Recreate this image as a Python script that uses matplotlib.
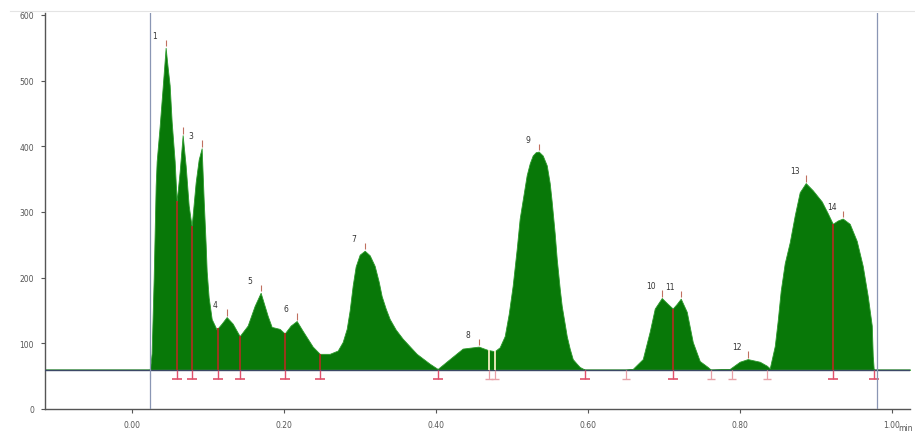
import numpy as np
import matplotlib.pyplot as plt

trace_t = [-0.114, 0.0237, 0.0250, 0.0263, 0.0290, 0.0316, 0.0329, 0.0368, 0.0408, 0.0447,
           0.0474, 0.0500, 0.0526, 0.0566, 0.0592, 0.0632, 0.0671, 0.0711, 0.0750, 0.0789,
           0.0842, 0.0882, 0.0921, 0.0947, 0.0974, 0.0987, 0.1013, 0.1053, 0.1118, 0.1184,
           0.1250, 0.1329, 0.1421, 0.1526, 0.1618, 0.1697, 0.1789, 0.1842, 0.1947, 0.2013,
           0.2092, 0.2171, 0.2250, 0.2316, 0.2382, 0.2474, 0.2605, 0.2711, 0.2776, 0.2829,
           0.2868, 0.2908, 0.2947, 0.3000, 0.3066, 0.3132, 0.3197, 0.3250, 0.3289, 0.3342,
           0.3395, 0.3474, 0.3566, 0.3750, 0.3921,
           0.4026, 0.4184, 0.4355, 0.4566, 0.4684, 0.4776, 0.4842, 0.4908, 0.4961, 0.5013,
           0.5066, 0.5105, 0.5158, 0.5197, 0.5237, 0.5276, 0.5316, 0.5355, 0.5408, 0.5461,
           0.5500, 0.5526, 0.5566, 0.5592, 0.5632, 0.5658, 0.5697, 0.5724, 0.5763, 0.5803,
           0.5855, 0.5895,
           0.5961, 0.6500, 0.6592, 0.6724, 0.6816, 0.6882, 0.6974, 0.7053, 0.7118, 0.7171,
           0.7224, 0.7303, 0.7382, 0.7474, 0.7579, 0.7618, 0.7868, 0.8000, 0.8105, 0.8263,
           0.8355, 0.8395, 0.8461, 0.8500, 0.8539, 0.8592, 0.8658, 0.8724, 0.8789, 0.8868,
           0.8961, 0.9079, 0.9158, 0.9224, 0.9289, 0.9355, 0.9447, 0.9539, 0.9618, 0.9684,
           0.9737, 0.9750, 0.9763, 1.024]
trace_y = [60, 60, 70, 85, 200, 340, 377, 430, 490, 550,
           520, 493, 438, 377, 316, 362, 417, 370, 310, 278,
           345, 380, 397, 320, 250, 210, 170, 137, 121, 130,
           140, 130, 111, 127, 157, 177, 142, 125, 122, 115,
           127, 134, 119, 107, 95, 84, 84, 89, 102, 122,
           150, 188, 217, 235, 241, 234, 218, 194, 172, 153,
           137, 121, 107, 84, 69,
           61, 76, 92, 95, 90, 88, 94, 111, 145, 188,
           244, 290, 328, 356, 374, 386, 391, 392, 386, 371,
           344, 316, 267, 229, 183, 157, 130, 111, 92, 76,
           69, 64,
           60, 60, 61, 76, 118, 153, 169, 160, 153, 160,
           168, 148, 102, 73, 64, 60, 61, 72, 76, 72,
           66, 62, 96, 135, 180, 222, 254, 295, 330, 344,
           333, 316, 298, 282, 287, 290, 282, 256, 218, 172,
           127, 81, 60, 60]

# peak apexes
peak_no = ["1", "3", "4", "5", "6", "7", "8", "9", "10", "11", "12", "13", "14"]
peak_t = [0.0447, 0.0921, 0.1250, 0.1697, 0.2171, 0.3066, 0.4566, 0.5355,
          0.6974, 0.7224, 0.8105, 0.8868, 0.9355]
peak_h = [550, 397, 140, 177, 134, 241, 95, 392, 169, 168, 76, 344, 290]
peak_t2 = 0.0671  # second peak, label hidden
peak_h2 = 417

# integration events
drop_t = [0.0592, 0.0789, 0.1132, 0.1421, 0.2013, 0.2474, 0.7118, 0.9224]
event_t = [0.0592, 0.0789, 0.1132, 0.1421, 0.2013, 0.2474, 0.4026, 0.5961,
           0.7118, 0.9224, 0.9763]
faint_t = [0.6500, 0.7618, 0.7895, 0.8355]
pale_t = [0.4697, 0.4776]

baseline = 60
start_t, end_t = 0.0237, 0.9803

fig = plt.figure(figsize=(9.15, 4.39), dpi=100)
ax = fig.add_axes([45 / 915, 29 / 439, 865 / 915, 396 / 439])

ax.fill_between(trace_t, baseline, trace_y, where=np.array(trace_y) >= baseline,
                color="#087808", lw=0.6, edgecolor="#2c9a2c", interpolate=True)

ax.axhline(baseline, color="#3c4866", lw=1.0, zorder=3)
ax.axvline(start_t, color="#8a96b4", lw=0.9, zorder=3)
ax.axvline(end_t, color="#8a96b4", lw=0.9, zorder=3)

# drop lines to the valleys
tops = np.interp(drop_t, trace_t, trace_y)
ax.vlines(drop_t, baseline, tops, color="#a8321e", lw=1.3, zorder=4)
ax.vlines(pale_t, baseline, np.interp(pale_t, trace_t, trace_y), color="#f3eec0", lw=1.3, zorder=4)

# event markers below the baseline
ax.vlines(event_t, 45, baseline, color="#e0506c", lw=1.0, zorder=4)
ax.plot(event_t, [46] * len(event_t), "_", color="#e0506c", ms=7, mew=1.2)
ax.vlines(faint_t + pale_t, 45, baseline, color="#e8a0a8", lw=0.9, zorder=4)
ax.plot(faint_t + pale_t, [46] * len(faint_t + pale_t), "_", color="#e8a0a8", ms=6, mew=1.0)
ax.vlines([start_t], 45, 55, color="#999999", lw=0.8)

# apex ticks and labels
ax.vlines(peak_t + [peak_t2], np.array(peak_h + [peak_h2]) + 2, np.array(peak_h + [peak_h2]) + 12,
          color="#c07060", lw=0.8, zorder=4)
for lab, t, h in zip(peak_no, peak_t, peak_h):
    ax.annotate(lab, (t, h), xytext=(-8, 9), textcoords="offset points",
                fontsize=5.5, color="#333333", ha="center", va="center")

ax.set_xlim(-0.114, 1.024)
ax.set_ylim(0, 603)
ax.set_xticks([0.0, 0.2, 0.4, 0.6, 0.8, 1.0])
ax.set_xticklabels(["0.00", "0.20", "0.40", "0.60", "0.80", "1.00"])
ax.set_yticks([0, 100, 200, 300, 400, 500, 600])
ax.tick_params(labelsize=5.5, colors="#555555", length=3, width=0.8, pad=5)
for s in ["top", "right"]:
    ax.spines[s].set_visible(False)
for s in ["left", "bottom"]:
    ax.spines[s].set_color("#555555")
    ax.spines[s].set_linewidth(1.0)

fig.text(898 / 915, 10 / 439, "min", fontsize=5.5, color="#555555", ha="left", va="center")
fig.add_artist(plt.Line2D([10 / 915, 1], [427 / 439, 427 / 439], color="#e4e4e4", lw=0.8))

fig.savefig("out.png", dpi=100)
